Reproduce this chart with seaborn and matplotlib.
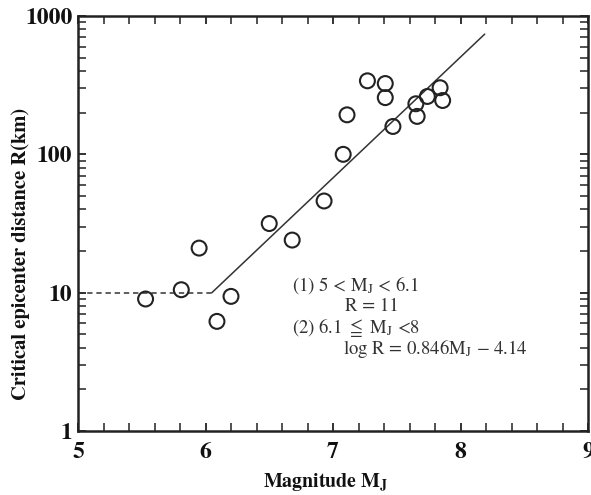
import matplotlib
matplotlib.use("Agg")
import matplotlib.pyplot as plt
import seaborn as sns
import numpy as np
import pandas as pd
from matplotlib.ticker import FixedLocator, LogLocator, NullFormatter, FixedFormatter

# ---- data ----
magnitude = [5.53, 5.81, 5.95, 6.09, 6.20, 6.50, 6.68, 6.93, 7.08, 7.11,
             7.27, 7.41, 7.41, 7.47, 7.65, 7.66, 7.74, 7.84, 7.86]
distance = [9.0, 10.5, 21, 6.2, 9.4, 31.6, 24, 46, 100, 193,
            340, 325, 257, 159, 232, 188, 262, 303, 245]
fit_m = [6.05, 8.19]
fit_r = [10, 740]
flat_m = [5.0, 6.05]
flat_r = [10, 10]
x_ticks = [5, 6, 7, 8, 9]
y_ticks = [1, 10, 100, 1000]
y_tick_labels = ["1", "10", "100", "1000"]

sns.set_theme(style="ticks")
plt.rcParams["font.family"] = ["STIXGeneral", "DejaVu Serif"]
plt.rcParams["mathtext.fontset"] = "stix"

fig = plt.figure(figsize=(5.91, 4.95), dpi=100)
ax = fig.add_axes([78 / 591, 1 - 431 / 495, 510 / 591, 415 / 495])
ax.set_facecolor("white")
fig.patch.set_facecolor("white")

pts = pd.DataFrame({"M": magnitude, "R": distance})
fit = pd.DataFrame({"M": fit_m, "R": fit_r})
flat = pd.DataFrame({"M": flat_m, "R": flat_r})

sns.lineplot(data=fit, x="M", y="R", ax=ax, color="#333333", linewidth=1.1)
sns.lineplot(data=flat, x="M", y="R", ax=ax, color="#333333", linewidth=1.1,
             linestyle=(0, (3.5, 2.5)))
sns.scatterplot(data=pts, x="M", y="R", ax=ax, marker="o", s=115,
                facecolor="none", edgecolor="#222222", linewidth=1.5, zorder=5)

ax.set_yscale("log")
ax.set_xlim(5, 9)
ax.set_ylim(1, 1000)

ax.xaxis.set_major_locator(FixedLocator(x_ticks))
ax.xaxis.set_minor_locator(FixedLocator(np.arange(5, 9.01, 0.2)))
ax.yaxis.set_major_locator(FixedLocator(y_ticks))
ax.yaxis.set_major_formatter(FixedFormatter(y_tick_labels))
ax.yaxis.set_minor_locator(LogLocator(base=10, subs=np.arange(2, 10)))
ax.yaxis.set_minor_formatter(NullFormatter())

ax.tick_params(which="both", direction="in", top=True, right=True, color="#222222")
ax.tick_params(which="major", length=6, width=1.3)
ax.tick_params(which="minor", length=6, width=1.1)
ax.tick_params(axis="x", which="major", pad=8, labelsize=17)
ax.tick_params(axis="y", which="major", pad=4, labelsize=17)
for lab in ax.get_xticklabels() + ax.get_yticklabels():
    lab.set_fontweight("bold")
    lab.set_color("#111111")

for sp in ax.spines.values():
    sp.set_visible(True)
    sp.set_linewidth(1.8)
    sp.set_color("#222222")

ax.set_xlabel(r"Magnitude M$_\mathbf{J}$", fontsize=14.3, fontweight="bold", color="#111111")
ax.set_ylabel("Critical epicenter distance R(km)", fontsize=14.8, fontweight="bold", color="#111111")
ax.xaxis.set_label_coords(0.485, -0.099)
ax.yaxis.set_label_coords(-0.094, 0.427)

tc = "#333333"
fs = 13.5
ax.text(0.42, 0.352, r"(1) 5 < M$_\mathrm{J}$ < 6.1", transform=ax.transAxes,
        fontsize=fs, color=tc, ha="left", va="center")
ax.text(0.576, 0.300, "R = 11", transform=ax.transAxes,
        fontsize=fs, color=tc, ha="center", va="center")
ax.text(0.42, 0.250, r"(2) 6.1 $\leqq$ M$_\mathrm{J}$ <8", transform=ax.transAxes,
        fontsize=fs, color=tc, ha="left", va="center")
ax.text(0.52, 0.198, r"log R = 0.846M$_\mathrm{J}$ $-$ 4.14", transform=ax.transAxes,
        fontsize=fs, color=tc, ha="left", va="center")

fig.savefig("out.png", dpi=100, facecolor="white")
